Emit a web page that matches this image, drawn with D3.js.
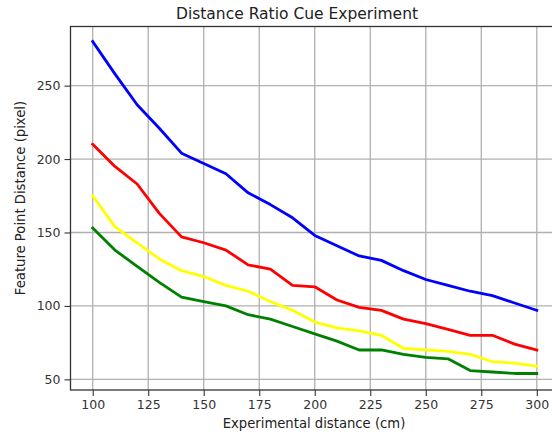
<!DOCTYPE html>
<html><head><meta charset="utf-8">
<script src="https://cdn.jsdelivr.net/npm/d3@7"></script>
<style>body{margin:0;background:#fff;} svg{display:block;}</style>
</head><body>
<svg id="chart" width="552" height="436"></svg>
<script>
const distances = [100,110,120,130,140,150,160,170,180,190,200,210,220,230,240,250,260,270,280,290,300];
const blueSeries   = [280,258,237,221,204,197,190,177,169,160,148,141,134,131,124,118,114,110,107,102,97];
const redSeries    = [210,195,183,163,147,143,138,128,125,114,113,104,99,97,91,88,84,80,80,74,70];
const yellowSeries = [175,154,143,132,124,120,114,110,103,97,89,85,83,80,71,70,69,67,62,61,59];
const greenSeries  = [153,138,127,116,106,103,100,94,91,86,81,76,70,70,67,65,64,56,55,54,54];
const xTicks = [100,125,150,175,200,225,250,275,300];
const yTicks = [50,100,150,200,250];
const seriesColors = ["#0000ff","#ff0000","#ffff00","#008000"];
const title = "Distance Ratio Cue Experiment";
const xLabel = "Experimental distance (cm)";
const yLabel = "Feature Point Distance (pixel)";

(function(){
const svg = d3.select("#chart");
const pl = 70.5, pr = 559, pt = 26.5, pb = 390;
const x = d3.scaleLinear().domain([90,310]).range([pl,pr]);
const y = d3.scaleLinear().domain([42.75,290.25]).range([pb,pt]);
const font = "DejaVu Sans, sans-serif";

// grid
svg.append("g").selectAll("line").data(xTicks).join("line")
  .attr("x1",d=>x(d)).attr("x2",d=>x(d)).attr("y1",pt).attr("y2",pb)
  .attr("stroke","#b0b0b0").attr("stroke-width",1.3);
svg.append("g").selectAll("line").data(yTicks).join("line")
  .attr("y1",d=>y(d)).attr("y2",d=>y(d)).attr("x1",pl).attr("x2",pr)
  .attr("stroke","#b0b0b0").attr("stroke-width",1.3);

// lines
const allSeries = [blueSeries, redSeries, yellowSeries, greenSeries];
const line = d3.line().x((d,i)=>x(distances[i])).y(d=>y(d));
allSeries.forEach((s,k)=>{
  svg.append("path").datum(s).attr("d",line).attr("fill","none")
    .attr("stroke",seriesColors[k]).attr("stroke-width",2.8)
    .attr("stroke-linejoin","round").attr("stroke-linecap","square");
});

// axes
const xAxis = d3.axisBottom(x).tickValues(xTicks).tickSize(6).tickPadding(4);
const gx = svg.append("g").attr("transform",`translate(0,${pb})`).call(xAxis);
const yAxis = d3.axisLeft(y).tickValues(yTicks).tickSize(6).tickPadding(4);
const gy = svg.append("g").attr("transform",`translate(${pl},0)`).call(yAxis);
[gx,gy].forEach(g=>{
  g.select(".domain").remove();
  g.selectAll("line").attr("stroke","#333").attr("stroke-width",1.1);
  g.selectAll("text").attr("font-family",font).attr("font-size",12.5).attr("fill","#333");
});

// frame
svg.append("rect").attr("x",pl).attr("y",pt).attr("width",pr-pl).attr("height",pb-pt)
  .attr("fill","none").attr("stroke","#333").attr("stroke-width",1.3);

// texts
svg.append("text").attr("x",297).attr("y",18.5).attr("text-anchor","middle")
  .attr("font-family",font).attr("font-size",15.5).attr("fill","#222").text(title);
svg.append("text").attr("x",314).attr("y",428).attr("text-anchor","middle")
  .attr("font-family",font).attr("font-size",13.2).attr("fill","#222").text(xLabel);
svg.append("text").attr("transform",`translate(25,198) rotate(-90)`).attr("text-anchor","middle")
  .attr("font-family",font).attr("font-size",13.2).attr("fill","#222").text(yLabel);
})();
</script>
</body></html>
